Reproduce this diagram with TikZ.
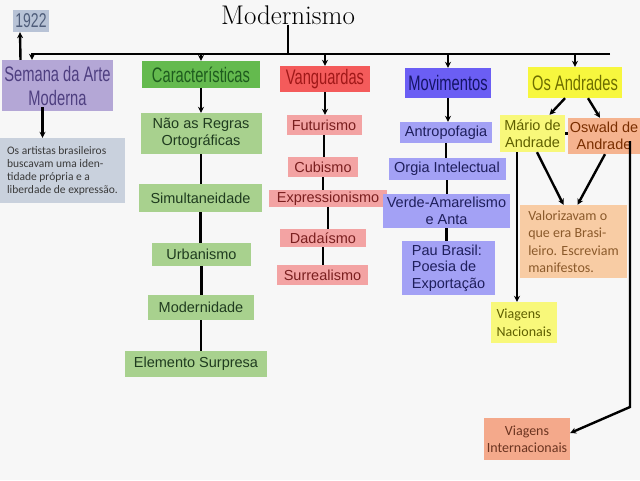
\documentclass[tikz,border=0pt]{standalone}
\usepackage{fontspec}
\newfontfamily\arialfont{Liberation Sans}
\newfontfamily\headfont[FakeStretch=0.7]{Liberation Sans}
\newfontfamily\calfont{Carlito}
\usetikzlibrary{arrows.meta, calc}

\definecolor{bgpaper}{HTML}{F7F7F7}
\definecolor{yearfill}{HTML}{B8C3D6}
\definecolor{yeartext}{HTML}{4F5D7A}
\definecolor{semfill}{HTML}{B4A7D6}
\definecolor{semtext}{HTML}{4E3F80}
\definecolor{notefill}{HTML}{C9D1DD}
\definecolor{notetext}{HTML}{3A3A3A}
\definecolor{carfill}{HTML}{64BA4E}
\definecolor{cartext}{HTML}{1E5B1E}
\definecolor{greenfill}{HTML}{A8D18E}
\definecolor{greentext}{HTML}{1F3B1F}
\definecolor{vangfill}{HTML}{F45B5B}
\definecolor{vangtext}{HTML}{A01818}
\definecolor{pinkfill}{HTML}{F3A3A3}
\definecolor{pinktext}{HTML}{7A1F1F}
\definecolor{movfill}{HTML}{6B5EF4}
\definecolor{movtext}{HTML}{141466}
\definecolor{lavfill}{HTML}{A3A1F5}
\definecolor{lavtext}{HTML}{1F1F5C}
\definecolor{andfill}{HTML}{F7F73E}
\definecolor{andtext}{HTML}{6E6E00}
\definecolor{mariofill}{HTML}{F8F87A}
\definecolor{mariotext}{HTML}{5F5F00}
\definecolor{oswfill}{HTML}{F5B38F}
\definecolor{oswtext}{HTML}{7A2E00}
\definecolor{valfill}{HTML}{F8CCA4}
\definecolor{valtext}{HTML}{8B5A2B}
\definecolor{vintfill}{HTML}{F4A98B}
\definecolor{vinttext}{HTML}{6B3420}

\begin{document}
\begin{tikzpicture}[x=1pt, y=-1pt, >={Stealth[length=6pt,width=6pt]},
  link/.style={line width=2.4pt},
  head/.style={inner sep=0pt, font=\headfont\fontsize{21}{24}\selectfont, align=center},
  item/.style={inner sep=0pt, font=\arialfont\fontsize{14.5}{16.5}\selectfont, align=center},
  note/.style={inner sep=0pt, font=\calfont\fontsize{14}{17.5}\selectfont, align=left}]
  \fill[bgpaper] (0,0) rectangle (640,480);
  \useasboundingbox (0,0) rectangle (640,480);

  % Title and year
  \node[inner sep=0pt, font=\fontsize{27}{27}\selectfont] (title) at (288,15) {Modernismo};
  \node[head, font=\headfont\fontsize{20}{20}\selectfont, fill=yearfill, text=yeartext,
        minimum width=36pt, minimum height=22pt] (year) at (31,21) {1922};

  % Semana da Arte Moderna
  \node[head, fill=semfill, text=semtext, minimum width=111pt, minimum height=51pt]
    (semana) at (57.5,85.5) {Semana da Arte\\Moderna};
  \node[note, font=\calfont\fontsize{11.5}{13}\selectfont, fill=notefill, text=notetext,
        minimum width=125pt, minimum height=65pt] (artistas) at (62.5,170.5)
    {Os artistas brasileiros\\buscavam uma iden-\\tidade própria e a\\liberdade de expressão.};

  % Caracteristicas
  \node[head, fill=carfill, text=cartext, minimum width=118pt, minimum height=27pt]
    (carac) at (201,74.5) {Características};
  \node[item, fill=greenfill, text=greentext, minimum width=121pt, minimum height=41pt]
    (regras) at (201,133.5) {Não as Regras\\Ortográficas};
  \node[item, fill=greenfill, text=greentext, minimum width=123pt, minimum height=28pt]
    (simul) at (200.5,198) {Simultaneidade};
  \node[item, fill=greenfill, text=greentext, minimum width=99pt, minimum height=23pt]
    (urban) at (201.5,254.5) {Urbanismo};
  \node[item, fill=greenfill, text=greentext, minimum width=106pt, minimum height=25pt]
    (modern) at (201,307.5) {Modernidade};
  \node[item, fill=greenfill, text=greentext, minimum width=142pt, minimum height=26pt]
    (elem) at (196,364) {Elemento Surpresa};

  % Vanguardas
  \node[head, fill=vangfill, text=vangtext, minimum width=90pt, minimum height=26pt]
    (vang) at (325,79) {Vanguardas};
  \node[item, fill=pinkfill, text=pinktext, minimum width=75pt, minimum height=20pt]
    (futur) at (324,125) {Futurismo};
  \node[item, fill=pinkfill, text=pinktext, minimum width=70pt, minimum height=20pt]
    (cubis) at (323,167) {Cubismo};
  \node[item, fill=pinkfill, text=pinktext, minimum width=118pt, minimum height=17pt]
    (expres) at (328,198.5) {Expressionismo};
  \node[item, fill=pinkfill, text=pinktext, minimum width=86pt, minimum height=18pt]
    (dada) at (323,238) {Dadaísmo};
  \node[item, fill=pinkfill, text=pinktext, minimum width=91pt, minimum height=20pt]
    (surreal) at (322.5,275) {Surrealismo};

  % Movimentos
  \node[head, fill=movfill, text=movtext, minimum width=86pt, minimum height=30pt]
    (movim) at (448,83) {Movimentos};
  \node[item, fill=lavfill, text=lavtext, minimum width=92pt, minimum height=21pt]
    (antrop) at (446,132.5) {Antropofagia};
  \node[item, fill=lavfill, text=lavtext, minimum width=117pt, minimum height=22pt]
    (orgia) at (447,169) {Orgia Intelectual};
  \node[item, fill=lavfill, text=lavtext, minimum width=127pt, minimum height=34pt]
    (verde) at (446.5,211) {Verde-Amarelismo\\e Anta};
  \node[item, align=left, fill=lavfill, text=lavtext, minimum width=93pt,
        minimum height=54pt] (pau) at (448.5,268) {Pau Brasil:\\Poesia de\\Exportação};

  % Os Andrades
  \node[head, fill=andfill, text=andtext, minimum width=94pt, minimum height=31pt]
    (andrades) at (575,82.5) {Os Andrades};
  \node[item, fill=mariofill, text=mariotext, minimum width=65pt, minimum height=37pt]
    (mario) at (532.5,133.5) {Mário de\\Andrade};
  \node[item, fill=oswfill, text=oswtext, minimum width=72pt, minimum height=36pt]
    (oswald) at (604,136) {Oswald de\\Andrade};
  \node[note, fill=valfill, text=valtext, minimum width=107pt, minimum height=73pt]
    (valor) at (573.5,241.5) {Valorizavam o\\que era Brasi-\\leiro. Escreviam\\manifestos.};
  \node[note, fill=mariofill, text=mariotext, minimum width=66pt, minimum height=41pt]
    (vnac) at (524,322.5) {Viagens\\Nacionais};
  \node[note, align=center, fill=vintfill, text=vinttext, minimum width=86pt, minimum height=42pt]
    (vint) at (527,439) {Viagens\\Internacionais};

  % Main bar
  \coordinate (barL) at (32,54);
  \coordinate (barR) at (610,54);
  \draw[link] (title.south) -- (title.south |- barR);
  \draw[link,->] (barR) -- (barL) -- (barL |- semana.north);
  \foreach \h in {carac, vang, movim, andrades}
    \draw[link,->] (\h.north |- barR) -- (\h.north);

  % Semana links
  \draw[link,->] ([xshift=-37pt]semana.north) -- ([xshift=-11pt]year.south);
  \draw[link,->] ([xshift=-15pt,yshift=4pt]semana.south) -- ([xshift=-20pt]artistas.north);

  % Vertical chains
  \foreach \h/\c in {carac/regras, vang/futur, movim/antrop}
    \draw[link,->] (\h.south) -- (\h.south |- \c.north);
  \foreach \a/\b in {regras/simul, simul/urban, urban/modern, modern/elem,
                     futur/cubis, cubis/expres, expres/dada, dada/surreal,
                     antrop/orgia, orgia/verde, verde/pau}
    \draw[link] (\a.south) -- (\a.south |- \b.north);

  % Andrades links
  \draw[link,->] ([xshift=-10pt]andrades.south) -- ([xshift=17pt]mario.north);
  \draw[link,->] ([xshift=13pt]andrades.south) -- ([xshift=-4pt]oswald.north);
  \draw[link] (mario.east) -- (mario.east -| oswald.west);
  \draw[link,->] ([xshift=4.5pt]mario.south) -- ([xshift=-10pt]valor.north);
  \draw[link,->] ([xshift=1pt]oswald.south) -- ([xshift=4pt]valor.north);
  \draw[link,->] ([xshift=-15.5pt]mario.south) -- ([xshift=-7pt]vnac.north);
  \draw[link,->] ([xshift=26pt,yshift=-5pt]oswald.center) -- ++(0,266)
    -- ([yshift=6pt]vint.east);
\end{tikzpicture}
\end{document}
